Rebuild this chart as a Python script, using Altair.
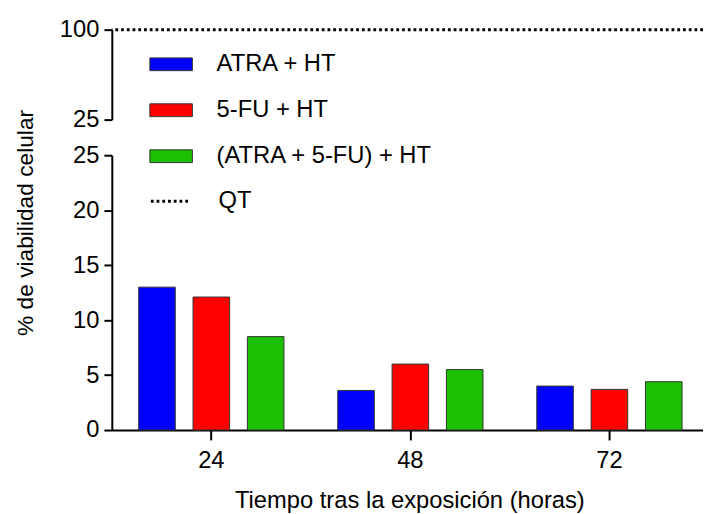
import altair as alt
import pandas as pd

# ---- data ----
tiempos = ["24", "48", "72"]
series = ["ATRA + HT", "5-FU + HT", "(ATRA + 5-FU) + HT"]
atra_ht = [13.0, 3.6, 4.0]
fu_ht = [12.1, 6.0, 3.7]
combo_ht = [8.5, 5.5, 4.4]
colores = ["#0000FF", "#FF0000", "#1BC000"]
qt_label = ["QT"]
qt_value = [100]

rows = []
for s, vals in zip(series, [atra_ht, fu_ht, combo_ht]):
    for t, v in zip(tiempos, vals):
        rows.append({"tiempo": t, "serie": s, "valor": v})
bars_df = pd.DataFrame(rows)
qt_df = pd.DataFrame({"serie": qt_label, "valor": qt_value})

FONT = "Liberation Sans"
FS = 24

axis_common = dict(
    labelFont=FONT, labelFontSize=FS, labelColor="black",
    titleFont=FONT, titleColor="black", titleFontWeight="normal",
    domainColor="black", domainWidth=2, tickColor="black", tickWidth=2,
    grid=False,
)

# bottom segment (0-25)
bars = alt.Chart(bars_df).mark_bar(stroke="#333333", strokeWidth=1).encode(
    x=alt.X(
        "tiempo:N", sort=tiempos,
        scale=alt.Scale(range=[0, 604], paddingInner=0, paddingOuter=0),
        axis=alt.Axis(
            title="Tiempo tras la exposición (horas)", labelAngle=0,
            tickSize=10, labelPadding=9, titleBaseline="alphabetic",
            titleFontSize=24, titleY=78, titleX=301, titleAlign="center",
            **axis_common,
        ),
    ),
    xOffset=alt.XOffset("serie:N", sort=series,
                        scale=alt.Scale(paddingInner=0.327, paddingOuter=0.495)),
    y=alt.Y(
        "valor:Q",
        scale=alt.Scale(domain=[0, 25], range=[405, 127], nice=False, zero=True),
        axis=alt.Axis(
            title="% de viabilidad celular", orient="left",
            values=[0, 5, 10, 15, 20, 25], tickSize=8, labelPadding=5,
            titleFontSize=23,
            titleAngle=270, titleBaseline="alphabetic", titleAlign="center",
            titleX=-80, titleY=195, **axis_common,
        ),
    ),
    color=alt.Color(
        "serie:N", sort=series,
        scale=alt.Scale(domain=series, range=colores),
        legend=alt.Legend(
            title=None, orient="none", legendX=38, legendY=13, padding=0,
            symbolType="M-1,-0.3L1,-0.3L1,0.3L-1,0.3Z", symbolSize=1849,
            symbolStrokeColor="#333333", symbolStrokeWidth=1, symbolOpacity=1,
            labelFont=FONT, labelFontSize=FS, labelColor="black",
            labelOffset=24, rowPadding=12.5, labelLimit=400,
        ),
    ),
)

# top segment (25-100) with the QT reference line
qt = alt.Chart(qt_df).mark_rule(color="black", strokeWidth=3).encode(
    y=alt.Y(
        "valor:Q",
        scale=alt.Scale(domain=[25, 100], range=[91, 0], nice=False, zero=False),
        axis=alt.Axis(
            title=None, orient="left", values=[25, 100], tickSize=8,
            labelPadding=5, **axis_common,
        ),
    ),
    strokeDash=alt.StrokeDash(
        "serie:N",
        scale=alt.Scale(domain=qt_label, range=[[2.8, 3.0]]),
        legend=alt.Legend(
            title=None, orient="none", legendX=38, legendY=152, padding=0,
            symbolType="stroke", symbolSize=1600, symbolStrokeColor="black",
            symbolStrokeWidth=3,
            labelFont=FONT, labelFontSize=FS, labelColor="black", labelOffset=27,
        ),
    ),
)

chart = alt.layer(bars, qt).resolve_scale(y="independent").properties(
    width=598, height=405,
    padding={"left": 105, "top": 19, "right": 0, "bottom": 82},
    autosize=alt.AutoSizeParams(type="none"),
).configure_view(stroke=None)

chart.save("out.html", embed_options={"renderer": "svg", "actions": False})
